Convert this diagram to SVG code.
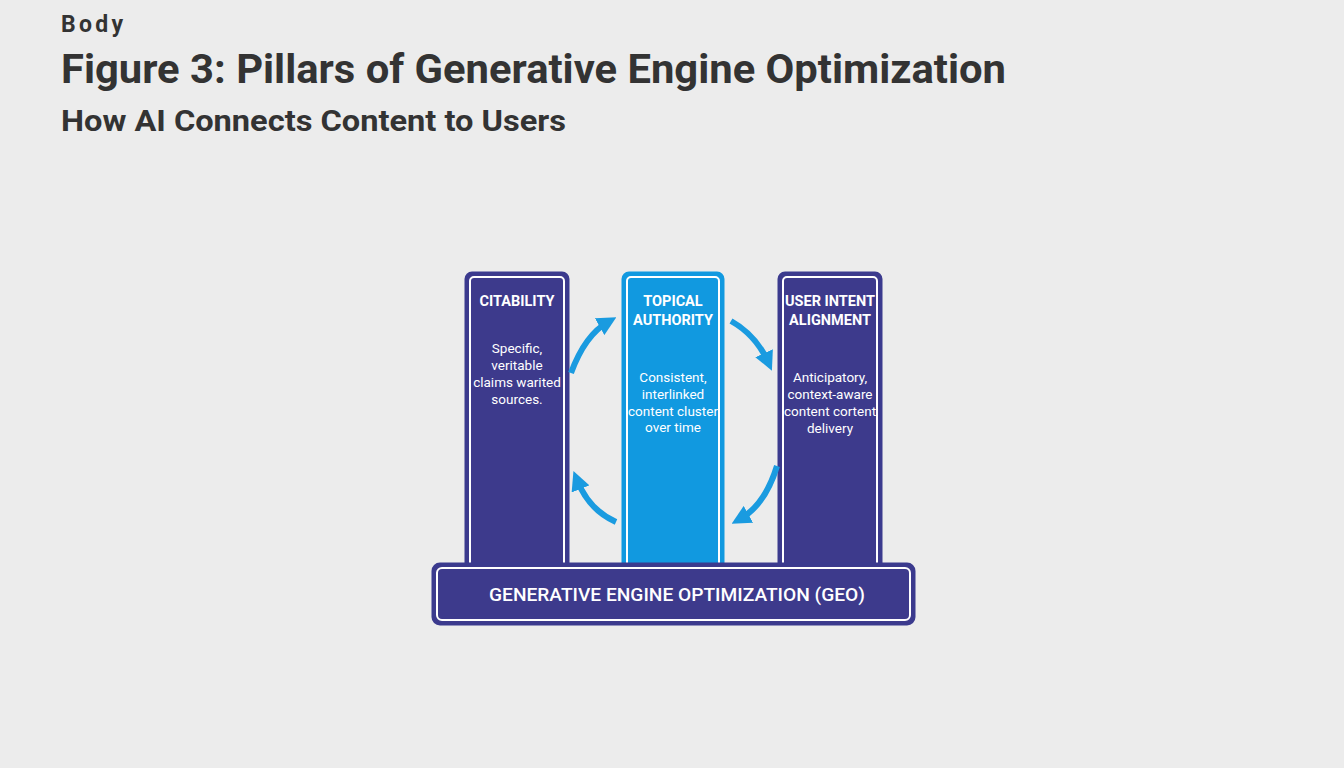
<svg xmlns="http://www.w3.org/2000/svg" width="1344" height="768" viewBox="0 0 1344 768">
<defs>
<marker id="ah" viewBox="0 0 10 10" refX="5" refY="5" markerWidth="3.2" markerHeight="3.2" orient="auto"><path d="M0,0 L10,5 L0,10 z" fill="#1a9be0"/></marker>
</defs>
<style>
.t{font-family:Roboto,"Liberation Sans",sans-serif;font-weight:bold;fill:#333}
.h{font-family:Roboto,"Liberation Sans",sans-serif;font-weight:bold;fill:#fff;font-size:14.5px;text-anchor:middle}
.b{font-family:Roboto,"Liberation Sans",sans-serif;fill:#fff;font-size:13.5px;text-anchor:middle}
.o{stroke:#3b3a8e;stroke-width:3}
.i{fill:none;stroke:#fff;stroke-width:2}
.ar{fill:none;stroke:#1a9be0;stroke-width:6;marker-end:url(#ah)}
</style>
<rect width="1344" height="768" fill="#ececec"/>
<text class="t" x="61" y="32" font-size="23" textLength="62">Body</text>
<text class="t" x="61" y="83" font-size="41" textLength="945" lengthAdjust="spacingAndGlyphs">Figure 3: Pillars of Generative Engine Optimization</text>
<text class="t" x="61" y="131" font-size="30" textLength="505" lengthAdjust="spacingAndGlyphs">How AI Connects Content to Users</text>
<g id="citability">
<rect x="466" y="273" width="102" height="300" rx="6" fill="#3d3a8c" class="o"/>
<rect x="470" y="277" width="94" height="296" rx="4" class="i"/>
<text class="h" x="517" y="306">CITABILITY</text>
<text class="b" x="517" y="353">Specific,</text>
<text class="b" x="517" y="370">veritable</text>
<text class="b" x="517" y="387">claims warited</text>
<text class="b" x="517" y="404">sources.</text>
</g>
<g id="topical">
<rect x="623" y="273" width="100" height="300" rx="6" fill="#1199e0" stroke="#1199e0" stroke-width="3"/>
<rect x="627" y="277" width="92" height="296" rx="4" class="i"/>
<text class="h" x="673" y="306">TOPICAL</text>
<text class="h" x="673" y="325">AUTHORITY</text>
<text class="b" x="673" y="382">Consistent,</text>
<text class="b" x="673" y="399">interlinked</text>
<text class="b" x="673" y="416">content cluster</text>
<text class="b" x="673" y="432">over time</text>
</g>
<g id="intent">
<rect x="779" y="273" width="102" height="300" rx="6" fill="#3d3a8c" class="o"/>
<rect x="783" y="277" width="94" height="296" rx="4" class="i"/>
<text class="h" x="830" y="306">USER INTENT</text>
<text class="h" x="830" y="325">ALIGNMENT</text>
<text class="b" x="830" y="382">Anticipatory,</text>
<text class="b" x="830" y="399">context-aware</text>
<text class="b" x="830" y="416">content cortent</text>
<text class="b" x="830" y="433">delivery</text>
</g>
<g id="geo">
<rect x="433" y="564" width="481" height="60" rx="7" fill="#3d3a8c" class="o"/>
<rect x="437" y="568" width="473" height="52" rx="5" class="i"/>
<text class="h" x="677" y="601" font-size="19" textLength="376" lengthAdjust="spacingAndGlyphs" style="font-size:19px;font-weight:500">GENERATIVE ENGINE OPTIMIZATION (GEO)</text>
</g>
<g id="connectors">
<path class="ar" d="M571,373 Q585,335 608,322"/>
<path class="ar" d="M731,321 Q756,335 768,362"/>
<path class="ar" d="M777,466 Q765,505 740,519"/>
<path class="ar" d="M616,522 Q589,510 577,480"/>
</g>
</svg>
